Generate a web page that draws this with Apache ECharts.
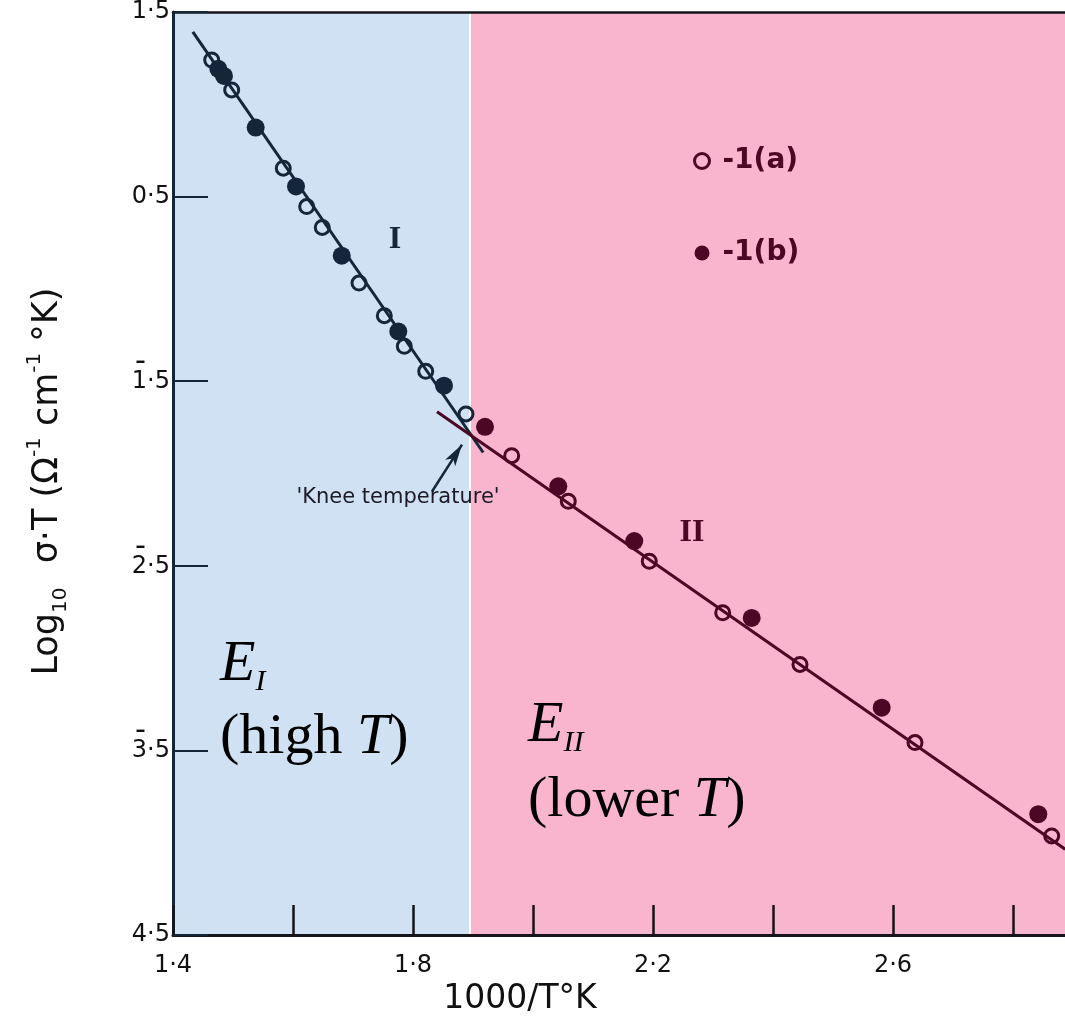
<!DOCTYPE html>
<html><head><meta charset="utf-8">
<script src="https://cdn.jsdelivr.net/npm/echarts@6/dist/echarts.min.js"></script>
<style>html,body{margin:0;padding:0;background:#fff}#c{width:1065px;height:1021px}</style>
</head><body><div id="c"></div>
<script>
// ---- data ----
const openX   = [1.4645, 1.4978, 1.5838, 1.6228, 1.6488, 1.7100, 1.7522, 1.7855, 1.8212, 1.8883, 1.9645, 2.0588, 2.1938, 2.3162, 2.4450, 2.6367, 2.8645];
const openY   = [1.240, 1.078, 0.654, 0.446, 0.333, 0.032, -0.145, -0.311, -0.446, -0.677, -0.903, -1.150, -1.475, -1.754, -2.034, -2.457, -2.963];
const filledX = [1.4755, 1.4850, 1.5378, 1.6050, 1.6812, 1.7755, 1.8517, 1.9200, 2.0422, 2.1688, 2.3645, 2.5812, 2.8422];
const filledY = [1.192, 1.154, 0.874, 0.555, 0.180, -0.230, -0.524, -0.747, -1.069, -1.366, -1.782, -2.268, -2.845];
const fitIX  = [1.433, 1.917];
const fitIY  = [1.392, -0.886];
const fitIIX = [1.840, 2.887];
const fitIIY = [-0.665, -3.035];
const kneeX = 1.895;
const arrowX = [1.8317, 1.8817];
const arrowY = [-1.097, -0.843];
const seriesNames = ['-1(a)', '-1(b)'];
const xTickLabelValues = [1.4, 1.8, 2.2, 2.6];
const xTickLabels = ['1\u00b74', '1\u00b78', '2\u00b72', '2\u00b76'];
const yTickValues = [1.5, 0.5, -0.5, -1.5, -2.5, -3.5];
// characteristic (integer part) and mantissa; barred = negative characteristic (bar notation)
const yTickChar   = ['1', '0', '1', '2', '3', '4'];
const yTickBarred = [false, false, true, true, true, false];
const yTickMant   = ['\u00b75', '\u00b75', '\u00b75', '\u00b75', '\u00b75', '\u00b75'];
const xMin = 1.4, xMax = 2.8867, yMin = -3.5, yMax = 1.5;

// ---- styles ----
const navy = '#14263a', maroon = '#4a0824', axisCol = '#15141a';
const blueBg = '#cfe1f3', pinkBg = '#f8b5cd';
const regionColor = x => (x < kneeX ? navy : maroon);
const zip = (a, b) => a.map((v, i) => [v, b[i]]);

const yLabelFormatter = v => {
  const i = yTickValues.findIndex(t => Math.abs(t - v) < 1e-6);
  if (i < 0) return '';
  if (yTickBarred[i]) return '{b|\u00af}{h|' + yTickMant[i] + '}\n{d|' + yTickChar[i] + yTickMant[i] + '}';
  return '{d|' + yTickChar[i] + yTickMant[i] + '}';
};

const chart = echarts.init(document.getElementById('c'), null, {renderer: 'canvas'});
const option = {
  animation: false,
  backgroundColor: '#ffffff',
  grid: {left: 173, right: 0, top: 12, bottom: 85},
  xAxis: [{
    type: 'value', min: xMin, max: xMax, interval: 0.2, z: 5,
    axisLine: {onZero: false, lineStyle: {color: axisCol, width: 3}},
    axisTick: {inside: true, length: 30, lineStyle: {color: axisCol, width: 2.5}},
    splitLine: {show: false},
    axisLabel: {
      margin: 19, fontSize: 24, fontFamily: 'DejaVu Sans', color: '#111',
      showMaxLabel: false,
      formatter: v => { const i = xTickLabelValues.findIndex(t => Math.abs(t - v) < 1e-6); return i >= 0 ? xTickLabels[i] : ''; }
    },
    name: '1000/T\u00b0K', nameLocation: 'middle', nameGap: 46,
    nameTextStyle: {fontSize: 33, fontFamily: 'DejaVu Sans', color: '#111', padding: [0, 198, 0, 0]}
  }, {
    type: 'value', position: 'top', min: xMin, max: xMax, z: 5,
    axisLine: {onZero: false, lineStyle: {color: axisCol, width: 2.5}},
    axisTick: {show: false}, axisLabel: {show: false}, splitLine: {show: false}
  }],
  yAxis: {
    type: 'value', min: yMin, max: yMax, interval: 1, z: 5,
    axisLine: {onZero: false, lineStyle: {color: navy, width: 3}},
    axisTick: {inside: true, length: 35, lineStyle: {color: navy, width: 2}},
    splitLine: {show: false},
    axisLabel: {
      margin: 3, color: '#111',
      formatter: yLabelFormatter,
      rich: {
        d: {fontSize: 24, fontFamily: 'DejaVu Sans', color: '#111', lineHeight: 14},
        b: {fontSize: 26, fontWeight: 'bold', fontFamily: 'DejaVu Sans', color: '#111', lineHeight: 1},
        h: {fontSize: 24, fontFamily: 'DejaVu Sans', color: 'rgba(0,0,0,0)', lineHeight: 1}
      }
    },
    name: '{n|Log}{s|10}{n|  \u03c3\u00b7T (\u03a9}{p|-1}{n| cm}{p|-1}{n| \u00b0K)}',
    nameLocation: 'middle', nameRotate: 90, nameGap: 102,
    nameTextStyle: {
      color: '#111', padding: [0, 16, 0, 0],
      rich: {
        n: {fontSize: 35, fontFamily: 'DejaVu Sans', color: '#111', lineHeight: 46},
        s: {fontSize: 20, fontFamily: 'DejaVu Sans', color: '#111', verticalAlign: 'bottom', lineHeight: 46, padding: [0, 2, 0, 0]},
        p: {fontSize: 20, fontFamily: 'DejaVu Sans', color: '#111', verticalAlign: 'top', lineHeight: 46}
      }
    }
  },
  legend: {
    orient: 'vertical', left: 688, top: 142, itemGap: 64, itemWidth: 15, itemHeight: 15,
    selectedMode: false,
    textStyle: {fontSize: 28, fontWeight: 'bold', fontFamily: 'DejaVu Sans', color: maroon, padding: [0, 0, 0, 8]},
    data: [
      {name: seriesNames[0], icon: 'circle', itemStyle: {color: 'rgba(0,0,0,0)', borderColor: maroon, borderWidth: 3, opacity: 1}},
      {name: seriesNames[1], icon: 'circle', itemStyle: {color: maroon, opacity: 1}}
    ]
  },
  series: [
    {
      type: 'scatter', name: 'bg', data: [], z: 1, silent: true,
      markArea: {
        silent: true,
        data: [
          [{xAxis: xMin, itemStyle: {color: blueBg, opacity: 1}}, {xAxis: kneeX - 0.0017}],
          [{xAxis: kneeX + 0.0017, itemStyle: {color: pinkBg, opacity: 1}}, {xAxis: xMax}]
        ]
      }
    },
    {
      type: 'line', name: 'fitI', data: zip(fitIX, fitIY), showSymbol: false, z: 6, silent: true,
      lineStyle: {color: navy, width: 3},
      markLine: {
        silent: true, symbol: ['none', 'arrow'], symbolSize: [9, 22], label: {show: false},
        lineStyle: {color: navy, width: 2.5, type: 'solid'},
        data: [[{coord: [arrowX[0], arrowY[0]]}, {coord: [arrowX[1], arrowY[1]]}]]
      }
    },
    {
      type: 'line', name: 'fitII', data: zip(fitIIX, fitIIY), showSymbol: false, z: 6, silent: true,
      lineStyle: {color: maroon, width: 3}
    },
    {
      type: 'scatter', name: seriesNames[0], z: 8, symbol: 'circle', symbolSize: 14,
      itemStyle: {color: 'rgba(0,0,0,0)', borderColor: maroon, borderWidth: 3, opacity: 1},
      data: openX.map((x, i) => ({value: [x, openY[i]], itemStyle: {color: 'rgba(0,0,0,0)', borderColor: regionColor(x), borderWidth: 3, opacity: 1}}))
    },
    {
      type: 'scatter', name: seriesNames[1], z: 8, symbol: 'circle', symbolSize: 18,
      itemStyle: {color: maroon, opacity: 1},
      data: filledX.map((x, i) => ({value: [x, filledY[i]], itemStyle: {color: regionColor(x), opacity: 1}}))
    }
  ],
  graphic: [
    {type: 'text', x: 395, y: 240, z: 20, style: {text: 'I', font: 'bold 32px "Liberation Serif"', fill: navy, align: 'center', verticalAlign: 'middle'}},
    {type: 'text', x: 692, y: 533, z: 20, style: {text: 'II', font: 'bold 32px "Liberation Serif"', fill: maroon, align: 'center', verticalAlign: 'middle'}},
    {type: 'text', x: 398, y: 498, z: 20, style: {text: "'Knee temperature'", font: '21px "DejaVu Sans"', fill: '#1c1a26', align: 'center', verticalAlign: 'middle'}},
    {type: 'text', x: 220, y: 665, z: 20, style: {
      text: '{e|E}{s|I}', align: 'left', verticalAlign: 'middle',
      rich: {e: {font: 'italic 58px "Liberation Serif"', fill: '#000', lineHeight: 64},
             s: {font: 'italic 30px "Liberation Serif"', fill: '#000', verticalAlign: 'bottom', lineHeight: 64}}
    }},
    {type: 'text', x: 220, y: 738, z: 20, style: {
      text: '{r|(high }{i|T}{r|)}', align: 'left', verticalAlign: 'middle',
      rich: {r: {font: '58px "Liberation Serif"', fill: '#000'}, i: {font: 'italic 58px "Liberation Serif"', fill: '#000'}}
    }},
    {type: 'text', x: 528, y: 726, z: 20, style: {
      text: '{e|E}{s|II}', align: 'left', verticalAlign: 'middle',
      rich: {e: {font: 'italic 58px "Liberation Serif"', fill: '#000', lineHeight: 64},
             s: {font: 'italic 30px "Liberation Serif"', fill: '#000', verticalAlign: 'bottom', lineHeight: 64}}
    }},
    {type: 'text', x: 528, y: 801, z: 20, style: {
      text: '{r|(lower }{i|T}{r|)}', align: 'left', verticalAlign: 'middle',
      rich: {r: {font: '58px "Liberation Serif"', fill: '#000'}, i: {font: 'italic 58px "Liberation Serif"', fill: '#000'}}
    }}
  ]
};
chart.setOption(option);
</script>
</body></html>
